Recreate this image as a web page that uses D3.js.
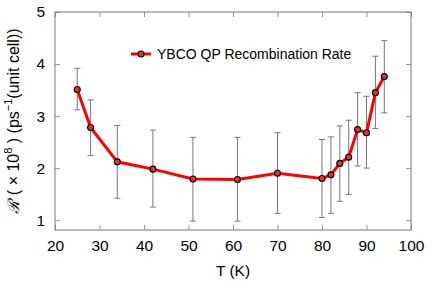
<!DOCTYPE html>
<html>
<head>
<meta charset="utf-8">
<script src="https://cdn.jsdelivr.net/npm/d3@7"></script>
<style>
  body { margin: 0; background: #fff; }
  text { font-family: "Liberation Sans", Arial, sans-serif; }
</style>
</head>
<body>
<div id="chart"></div>
<script>

var temps = [25, 28, 34, 42, 51, 61, 70, 80, 82, 84, 86, 88, 90, 92, 94];
var rates = [3.51, 2.78, 2.12, 1.98, 1.79, 1.78, 1.90, 1.80, 1.87, 2.09, 2.21, 2.74, 2.68, 3.45, 3.76];
var errHigh = [3.92, 3.31, 2.82, 2.73, 2.59, 2.59, 2.68, 2.55, 2.60, 2.81, 2.92, 3.45, 3.38, 4.15, 4.45];
var errLow = [3.12, 2.24, 1.42, 1.25, 0.98, 0.98, 1.13, 1.05, 1.13, 1.36, 1.49, 2.04, 2.00, 2.76, 3.06];
var xTicks = [20, 30, 40, 50, 60, 70, 80, 90, 100];
var yTicks = [1, 2, 3, 4, 5];
var seriesName = "YBCO QP Recombination Rate";

var width = 436, height = 286;
var margin = { top: 12, right: 25, bottom: 56, left: 55 };

var svg = d3.select("#chart").append("svg")
  .attr("width", width)
  .attr("height", height);

var x = d3.scaleLinear().domain([20, 100]).range([margin.left, width - margin.right]);
var y = d3.scaleLinear().domain([0.81, 5]).range([height - margin.bottom, margin.top]);

var points = temps.map(function(t, i) {
  return { t: t, r: rates[i], hi: errHigh[i], lo: errLow[i] };
});

// axes, ticks inward
var tickColor = "#999";
function styleAxis(g) {
  g.select(".domain").remove();
  g.selectAll(".tick line").attr("stroke", tickColor);
  g.selectAll(".tick text").attr("font-size", 15.5).attr("fill", "#000");
}

svg.append("g")
  .attr("transform", "translate(0," + y.range()[0] + ")")
  .call(d3.axisBottom(x).tickValues(xTicks).tickSize(-5).tickPadding(10))
  .call(styleAxis);
svg.append("g")
  .attr("transform", "translate(0," + y.range()[1] + ")")
  .call(d3.axisTop(x).tickValues(xTicks).tickSize(-5).tickFormat(""))
  .call(styleAxis);
svg.append("g")
  .attr("transform", "translate(" + x.range()[0] + ",0)")
  .call(d3.axisLeft(y).tickValues(yTicks).tickSize(-5).tickPadding(10).tickFormat(d3.format("d")))
  .call(styleAxis);
svg.append("g")
  .attr("transform", "translate(" + x.range()[1] + ",0)")
  .call(d3.axisRight(y).tickValues(yTicks).tickSize(-5).tickFormat(""))
  .call(styleAxis);

// frame
svg.append("rect")
  .attr("x", x.range()[0])
  .attr("y", y.range()[1])
  .attr("width", x.range()[1] - x.range()[0])
  .attr("height", y.range()[0] - y.range()[1])
  .attr("fill", "none")
  .attr("stroke", "#777")
  .attr("stroke-width", 1);

// error bars
var eb = svg.append("g").attr("stroke", "#777").attr("stroke-width", 1);
points.forEach(function(d) {
  eb.append("line").attr("x1", x(d.t)).attr("x2", x(d.t)).attr("y1", y(d.lo)).attr("y2", y(d.hi));
  eb.append("line").attr("x1", x(d.t) - 3).attr("x2", x(d.t) + 3).attr("y1", y(d.lo)).attr("y2", y(d.lo));
  eb.append("line").attr("x1", x(d.t) - 3).attr("x2", x(d.t) + 3).attr("y1", y(d.hi)).attr("y2", y(d.hi));
});

// line
var line = d3.line().x(function(d) { return x(d.t); }).y(function(d) { return y(d.r); });
svg.append("path")
  .datum(points)
  .attr("d", line)
  .attr("fill", "none")
  .attr("stroke", "#ff0000")
  .attr("stroke-width", 3);

svg.selectAll(".pt")
  .data(points)
  .enter().append("circle")
  .attr("cx", function(d) { return x(d.t); })
  .attr("cy", function(d) { return y(d.r); })
  .attr("r", 3)
  .attr("fill", "#e83030")
  .attr("stroke", "#000")
  .attr("stroke-width", 1.1);

// legend
var lg = svg.append("g").attr("transform", "translate(131,54)");
lg.append("line").attr("x1", 0).attr("x2", 20).attr("y1", 0).attr("y2", 0)
  .attr("stroke", "#ff0000").attr("stroke-width", 3);
lg.append("circle").attr("cx", 10).attr("cy", 0).attr("r", 3)
  .attr("fill", "#e83030").attr("stroke", "#000").attr("stroke-width", 1.1);
lg.append("text").attr("x", 26).attr("y", 5).attr("font-size", 14).text(seriesName);

// axis labels
svg.append("text")
  .attr("x", (x.range()[0] + x.range()[1]) / 2)
  .attr("y", 276)
  .attr("text-anchor", "middle")
  .attr("font-size", 15.5)
  .text("T (K)");

var yl = svg.append("text")
  .attr("transform", "translate(19," + (y.range()[0] + y.range()[1]) / 2 + ") rotate(-90)")
  .attr("text-anchor", "middle")
  .attr("font-size", 16);
yl.append("tspan").attr("font-family", "DejaVu Serif").attr("font-style", "italic").text("\u211B");
yl.append("tspan").text("  ( \u00D7 10");
yl.append("tspan").attr("dy", -7).attr("font-size", 11).text("8");
yl.append("tspan").attr("dy", 7).text(" )  (ps");
yl.append("tspan").attr("dy", -7).attr("font-size", 11).text("\u22121");
yl.append("tspan").attr("dy", 7).text("(unit cell))");

</script>
</body>
</html>
